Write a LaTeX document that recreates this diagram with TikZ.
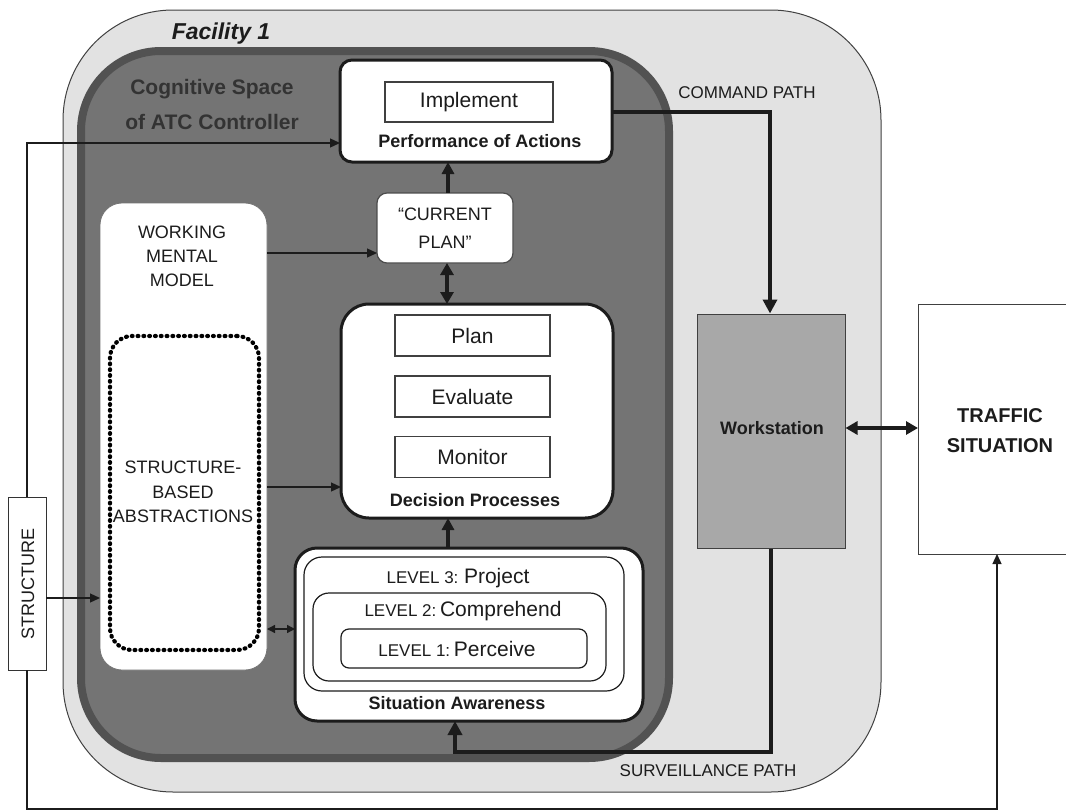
\documentclass[tikz,border=0pt]{standalone}
\usepackage{fontspec}
\setmainfont{Liberation Sans}
\usetikzlibrary{arrows.meta}
\definecolor{facfill}{RGB}{226,226,226}
\definecolor{cogfill}{RGB}{116,116,116}
\definecolor{cogedge}{RGB}{82,82,82}
\definecolor{wsfill}{RGB}{168,168,168}
\definecolor{txt}{RGB}{28,28,28}
\newcommand\fz[2]{\fontsize{#1}{#2}\selectfont}
\tikzset{
  box/.style={draw=txt, fill=white, inner sep=0pt, outer sep=0pt},
  thickbox/.style={box, line width=3pt},
  thinbox/.style={box, line width=1.2pt},
  lbl/.style={inner sep=0pt, text=txt, align=center},
  thinarrow/.style={draw=txt, line width=1.3pt, -{Triangle[length=10pt,width=9pt]}},
  thinboth/.style={draw=txt, line width=1.3pt, {Triangle[length=8pt,width=8pt]}-{Triangle[length=8pt,width=8pt]}},
  thickarrow/.style={draw=txt, line width=4pt, -{Triangle[length=14pt,width=14pt]}},
  thickboth/.style={draw=txt, line width=4pt, {Triangle[length=12pt,width=13pt]}-{Triangle[length=12pt,width=13pt]}},
  dotbox/.style={draw=black, line width=4.2pt, line cap=round, dash pattern=on 0.8pt off 5pt}
}
\begin{document}
\begin{tikzpicture}[x=1pt,y=-1pt]
\useasboundingbox (0,0) rectangle (1066,811);
% facility
\node[draw=black!75, line width=1pt, fill=facfill, rounded corners=110pt, minimum width=818pt, minimum height=782pt, inner sep=0pt] (fac) at (472,401) {};
\node[lbl, font=\fz{23}{26}\bfseries\itshape] (factitle) at (221,34) {Facility 1};
% cognitive space
\node[draw=cogedge, line width=8pt, fill=cogfill, rounded corners=80pt, minimum width=588pt, minimum height=707pt, inner sep=0pt] (cog) at (375,404.5) {};
\node[lbl, font=\fz{21}{35}\bfseries, text=black!80] (cogtitle) at (212,104) {Cognitive Space\\of ATC Controller};
% performance of actions
\node[thickbox, rounded corners=12pt, minimum width=272pt, minimum height=102pt] (perf) at (476,111) {};
\node[thinbox, draw=black!75, minimum width=168pt, minimum height=40pt, font=\fz{21}{24}, text=txt] (impl) at (469,102) {Implement};
\node[lbl, font=\fz{18}{20}\bfseries] (perflbl) at (480,141) {Performance of Actions};
% current plan
\node[thinbox, draw=black!70, rounded corners=10pt, minimum width=136pt, minimum height=70pt, font=\fz{18}{28}, align=center, text=txt] (cplan) at (445,228) {“CURRENT\\PLAN”};
% decision processes
\node[thickbox, rounded corners=28pt, minimum width=272pt, minimum height=214pt] (dec) at (477,411) {};
\node[thinbox, draw=black!75, minimum width=155pt, minimum height=41pt, font=\fz{21}{24}, text=txt] (plan) at (472.5,335.5) {Plan};
\node[thinbox, draw=black!75, minimum width=155pt, minimum height=41pt, font=\fz{21}{24}, text=txt] (eval) at (472.5,396.5) {Evaluate};
\node[thinbox, draw=black!75, minimum width=155pt, minimum height=41pt, font=\fz{21}{24}, text=txt] (mon) at (472.5,457) {Monitor};
\node[lbl, font=\fz{18}{20}\bfseries] (declbl) at (475,500) {Decision Processes};
% situation awareness
\node[thickbox, rounded corners=22pt, minimum width=348pt, minimum height=173pt] (sa) at (469,634.5) {};
\node[thinbox, rounded corners=18pt, minimum width=320pt, minimum height=134pt] (lthree) at (464,624) {};
\node[thinbox, rounded corners=16pt, minimum width=293pt, minimum height=88pt] (ltwo) at (459.5,637) {};
\node[thinbox, rounded corners=8pt, minimum width=246pt, minimum height=39pt] (lone) at (464,648.5) {};
\node[lbl] (lthreelbl) at (458,578) {{\fz{17}{20}LEVEL 3:}\ \ {\fz{21}{24}Project}};
\node[lbl] (ltwolbl) at (463,611) {{\fz{17}{20}LEVEL 2:} {\fz{21}{24}Comprehend}};
\node[lbl] (lonelbl) at (457,649) {{\fz{17}{20}LEVEL 1:} {\fz{21}{24}Perceive}};
\node[lbl, font=\fz{18}{20}\bfseries] (salbl) at (457,703) {Situation Awareness};
% working mental model
\node[box, draw=black!55, line width=0.8pt, rounded corners=22pt, minimum width=167pt, minimum height=467pt] (wmm) at (183.5,436.5) {};
\node[lbl, font=\fz{18}{24}] (wmmlbl) at (182,256) {WORKING\\MENTAL\\MODEL};
\node[dotbox, rounded corners=22pt, minimum width=149pt, minimum height=314pt, inner sep=0pt] (sba) at (184.5,493) {};
\node[lbl, font=\fz{18}{24.5}] (sbalbl) at (183,492) {STRUCTURE-\\BASED\\ABSTRACTIONS};
% structure
\node[box, draw=black!80, line width=1pt, minimum width=38pt, minimum height=173pt] (struct) at (27,583.5) {};
\node[lbl, font=\fz{18}{20}, rotate=90] (structlbl) at (28,584) {STRUCTURE};
% workstation
\node[draw=black!75, line width=1pt, fill=wsfill, minimum width=148pt, minimum height=234pt, inner sep=0pt] (ws) at (771,431) {};
\node[lbl, font=\fz{18}{20}\bfseries] (wslbl) at (772,428) {Workstation};
% traffic situation
\node[box, draw=black!75, line width=1pt, minimum width=157pt, minimum height=250pt] (traffic) at (996.5,429) {};
\node[lbl, font=\fz{20}{30}\bfseries] (trafficlbl) at (1000,431) {TRAFFIC\\SITUATION};
% path labels
\node[lbl, font=\fz{17}{20}] (cmdlbl) at (747,93) {COMMAND PATH};
\node[lbl, font=\fz{17}{20}] (survlbl) at (708,771) {SURVEILLANCE PATH};
% helper coordinates
\coordinate (ytop) at (0,143);
\coordinate (ystr) at (0,598);
\coordinate (ybot) at (0,809);
\coordinate (xloop) at (997,0);
\coordinate (ywp) at (0,253);
\coordinate (ywd) at (0,487);
\coordinate (yws) at (0,629);
\coordinate (ycmd) at (0,112);
\coordinate (xcmd) at (770,0);
\coordinate (xmid) at (448,0);
\coordinate (ysurv) at (0,752);
\coordinate (xsurv) at (455,0);
\coordinate (ytr) at (0,428);
% connectors
\draw[thinarrow] (struct.north) -- (struct.north |- ytop) -- (perf.west |- ytop);
\draw[thinarrow] (struct.east |- ystr) -- (wmm.west |- ystr);
\draw[thinarrow] (struct.south) -- (struct.south |- ybot) -- (xloop |- ybot) -- (xloop |- traffic.south);
\draw[thinarrow] (wmm.east |- ywp) -- (cplan.west |- ywp);
\draw[thinarrow] (wmm.east |- ywd) -- (dec.west |- ywd);
\draw[thinboth] (wmm.east |- yws) -- (sa.west |- yws);
\draw[thickarrow, -{Triangle[length=12pt,width=12pt]}] (xmid |- cplan.north) -- (xmid |- perf.south);
\draw[thickboth] ([xshift=-1pt]xmid |- cplan.south) -- ([xshift=-1pt]xmid |- dec.north);
\draw[thickarrow, -{Triangle[length=12pt,width=12pt]}] (xmid |- sa.north) -- (xmid |- dec.south);
\draw[thickarrow, line join=miter] (perf.east |- ycmd) -- (xcmd |- ycmd) -- (xcmd |- ws.north);
\draw[thickarrow, line join=miter] (ws.south) -- (ws.south |- ysurv) -- (xsurv |- ysurv) -- (xsurv |- sa.south);
\draw[thickboth] (ws.east |- ytr) -- (traffic.west |- ytr);
\end{tikzpicture}
\end{document}
